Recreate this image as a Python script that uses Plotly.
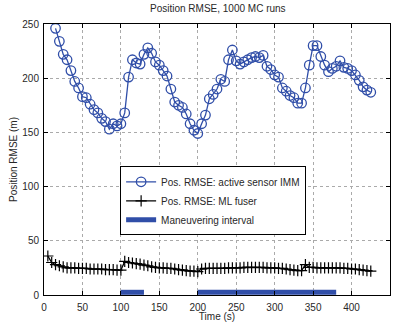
import plotly.graph_objects as go

# Active sensor IMM position RMSE
t_imm = list(range(15, 430, 5))
rmse_imm = [246, 234, 222, 217, 207, 197, 191, 183, 182, 176, 171, 168, 163, 160, 153, 158, 156, 158,
            168, 201, 217, 214, 213, 222, 228, 223, 215, 212, 207, 202, 190, 178, 175, 173, 167, 158,
            152, 149, 158, 166, 181, 185, 190, 199, 197, 217, 226, 216, 213, 215, 217, 219, 220, 219,
            221, 211, 208, 203, 201, 191, 188, 184, 182, 177, 177, 191, 212, 230, 230, 220, 212, 206,
            209, 211, 216, 210, 209, 207, 203, 198, 192, 189, 187]

# ML fuser position RMSE
t_ml = list(range(5, 430, 5))
rmse_ml = [36, 30, 28, 27, 26, 25, 25, 25, 24.5, 24.5, 24.5, 24, 24, 24, 24, 23.5, 23.5, 23.5, 23, 23,
           31, 30, 29.5, 29, 28.5, 27.5, 27, 26, 25.5, 25, 25, 24.5, 24.5, 24, 23.5, 23, 22.5, 22, 22, 21.5,
           24, 24.5, 24.5, 24.5, 24.5, 24.5, 24.5, 25, 25, 25, 25, 25.5, 25.5, 25.5, 25.5, 25.5, 25.5,
           25, 25, 25, 24.5, 24.5, 24, 23.5, 23, 22.5, 22.5, 28, 25.5, 25.5, 25, 25, 25, 25, 25, 25, 25,
           24.5, 24.5, 24, 24, 23.5, 23, 22.5, 22]

# Maneuvering intervals (start, end)
maneuvers = [(100, 130), (200, 380)]
maneuver_level = 2.5

blue = "rgb(48,78,168)"
fig = go.Figure()

fig.add_trace(go.Scatter(x=t_imm, y=rmse_imm, mode="lines+markers",
                         name="Pos. RMSE: active sensor IMM",
                         line=dict(color=blue, width=1.3),
                         marker=dict(symbol="circle-open", size=9.5, color=blue, line=dict(width=1.3))))
fig.add_trace(go.Scatter(x=t_ml, y=rmse_ml, mode="lines+markers",
                         name="Pos. RMSE: ML fuser",
                         line=dict(color="black", width=1.3),
                         marker=dict(symbol="cross-thin-open", size=8, color="black", line=dict(width=1.2, color="black"))))
for i, (a, b) in enumerate(maneuvers):
    fig.add_trace(go.Scatter(x=[a, b], y=[maneuver_level, maneuver_level], mode="lines",
                             name="Maneuvering interval", showlegend=(i == 0),
                             line=dict(color=blue, width=5)))

font = "Liberation Sans, Arial, sans-serif"
axis_common = dict(showline=True, linecolor="black", linewidth=1, mirror="ticks",
                   ticks="inside", ticklen=4, tickcolor="black", automargin=False,
                   showgrid=True, gridcolor="rgb(170,170,170)", griddash="dot", gridwidth=1,
                   zeroline=False, tickfont=dict(size=10, color="rgb(40,40,40)", family=font))

fig.update_layout(
    width=396, height=322,
    margin=dict(l=44, r=6, t=24, b=27),
    paper_bgcolor="white", plot_bgcolor="white",
    font=dict(family=font, size=10, color="rgb(40,40,40)"),
    title=dict(text="Position RMSE, 1000 MC runs", x=0.55, xanchor="center", y=0.985, yanchor="top",
               font=dict(size=10, color="rgb(40,40,40)")),
    xaxis=dict(range=[0, 450], tickvals=list(range(0, 451, 50)), ticklabelstandoff=3,
               title=dict(text="Time (s)", standoff=2, font=dict(size=10)), **axis_common),
    yaxis=dict(range=[0, 250], tickvals=list(range(0, 251, 50)), ticklabelstandoff=2,
               title=dict(text="Position RMSE (m)", standoff=2, font=dict(size=10)), **axis_common),
    legend=dict(x=0.22, y=0.475, xanchor="left", yanchor="top", bgcolor="white",
                bordercolor="black", borderwidth=1, font=dict(size=10, family=font),
                tracegroupgap=0, itemwidth=30),
    showlegend=True,
)

fig.write_html("out.html")
